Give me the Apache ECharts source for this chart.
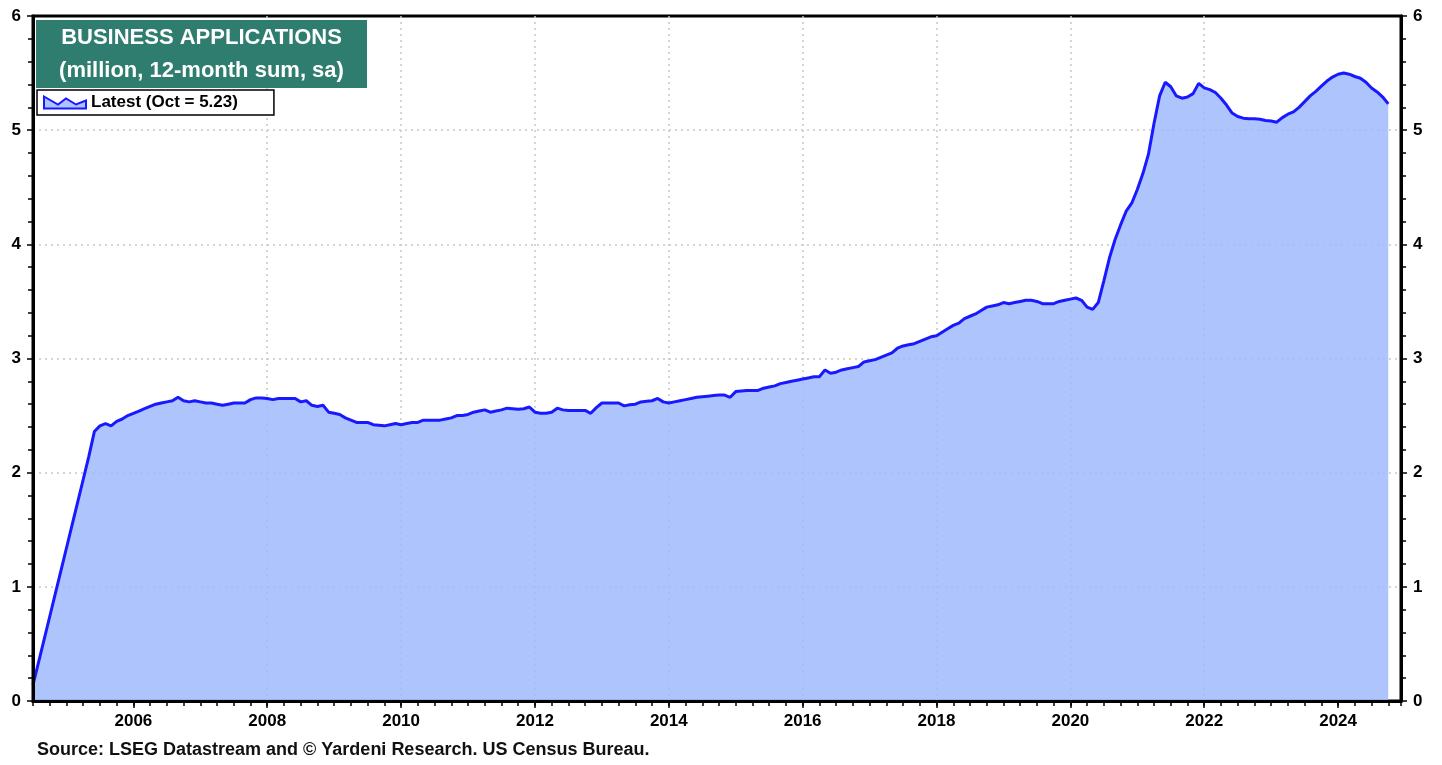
<!DOCTYPE html>
<html>
<head>
<meta charset="utf-8">
<title>Business Applications</title>
<script src="https://cdn.jsdelivr.net/npm/echarts@6/dist/echarts.min.js"></script>
<style>
  html, body { margin: 0; padding: 0; background: #fff; }
  #main { width: 1442px; height: 765px; }
</style>
</head>
<body>
<div id="main"></div>
<script>
// monthly series, first point = Jul 2004 (x in decimal years)
var startYear = 2004.5;
var seriesName = 'Latest (Oct = 5.23)';

// business applications, million, 12-month sum, sa
var apps = [
  // 2004 Jul-Dec
  0.14, 0.34, 0.54, 0.74, 0.94, 1.14,
  // 2005
  1.34, 1.54, 1.74, 1.94, 2.14, 2.36, 2.41, 2.43, 2.41, 2.45, 2.47, 2.50,
  // 2006
  2.52, 2.54, 2.56, 2.58, 2.60, 2.61, 2.62, 2.63, 2.66, 2.63, 2.62, 2.63,
  // 2007
  2.62, 2.61, 2.61, 2.60, 2.59, 2.60, 2.61, 2.61, 2.61, 2.64, 2.655, 2.655,
  // 2008
  2.65, 2.64, 2.65, 2.65, 2.65, 2.65, 2.62, 2.63, 2.59, 2.58, 2.59, 2.53,
  // 2009
  2.52, 2.51, 2.48, 2.46, 2.44, 2.44, 2.44, 2.42, 2.415, 2.41, 2.42, 2.43,
  // 2010
  2.42, 2.43, 2.44, 2.44, 2.46, 2.46, 2.46, 2.46, 2.47, 2.48, 2.50, 2.50,
  // 2011
  2.51, 2.53, 2.54, 2.55, 2.53, 2.54, 2.55, 2.565, 2.56, 2.555, 2.56, 2.575,
  // 2012
  2.53, 2.52, 2.52, 2.53, 2.565, 2.55, 2.545, 2.545, 2.545, 2.545, 2.52, 2.57,
  // 2013
  2.61, 2.61, 2.61, 2.61, 2.585, 2.595, 2.60, 2.62, 2.625, 2.63, 2.65, 2.62,
  // 2014
  2.61, 2.62, 2.63, 2.64, 2.65, 2.66, 2.665, 2.67, 2.675, 2.68, 2.68, 2.66,
  // 2015
  2.71, 2.715, 2.72, 2.72, 2.72, 2.74, 2.75, 2.76, 2.78, 2.79, 2.80, 2.81,
  // 2016
  2.82, 2.83, 2.84, 2.84, 2.90, 2.87, 2.88, 2.90, 2.91, 2.92, 2.93, 2.97,
  // 2017
  2.98, 2.99, 3.01, 3.03, 3.05, 3.09, 3.11, 3.12, 3.13, 3.15, 3.17, 3.19,
  // 2018
  3.20, 3.23, 3.26, 3.29, 3.31, 3.35, 3.37, 3.39, 3.42, 3.45, 3.46, 3.47,
  // 2019
  3.49, 3.48, 3.49, 3.50, 3.51, 3.51, 3.50, 3.48, 3.48, 3.48, 3.50, 3.51,
  // 2020
  3.52, 3.53, 3.51, 3.45, 3.43, 3.49, 3.68, 3.88, 4.04, 4.17, 4.29, 4.36,
  // 2021
  4.48, 4.62, 4.79, 5.06, 5.30, 5.42, 5.38, 5.30, 5.28, 5.29, 5.32, 5.41,
  // 2022
  5.37, 5.355, 5.33, 5.28, 5.22, 5.15, 5.12, 5.105, 5.10, 5.10, 5.095, 5.085,
  // 2023
  5.08, 5.07, 5.11, 5.14, 5.16, 5.20, 5.25, 5.30, 5.34, 5.385, 5.43, 5.465,
  // 2024 Jan-Oct
  5.49, 5.50, 5.49, 5.47, 5.455, 5.42, 5.37, 5.335, 5.29, 5.23
];

var yearLabels = [2006, 2008, 2010, 2012, 2014, 2016, 2018, 2020, 2022, 2024];

var xMin = 2004.5, xMax = 2024.94;
var font = '"Liberation Sans", Arial, sans-serif';

var points = apps.map(function (v, i) { return [startYear + i / 12, v]; });

var chart = echarts.init(document.getElementById('main'));

chart.setOption({
  animation: false,
  backgroundColor: '#fff',
  textStyle: { fontFamily: font },
  grid: {
    left: 33, right: 41, top: 16, bottom: 64,
    show: true, borderColor: '#000', borderWidth: 3, backgroundColor: 'transparent'
  },
  legend: {
    left: 37, top: 90,
    padding: [4, 36, 4, 6],
    backgroundColor: '#fff',
    borderColor: '#000',
    borderWidth: 1.5,
    borderRadius: 0,
    itemWidth: 42,
    itemHeight: 14,
    textStyle: { fontSize: 17, fontWeight: 'bold', color: '#000', fontFamily: font },
    data: [{
      name: seriesName,
      icon: 'path://M0,2 L14,10 L22,4 L32,10 L42,6 L42,14 L0,14 Z',
      itemStyle: { color: '#aec3fb', borderColor: '#1919ff', borderWidth: 2 }
    }]
  },
  xAxis: [
    {
      // axis line + quarterly ticks
      type: 'value', min: xMin, max: xMax, interval: 0.25, z: 3,
      axisLine: { lineStyle: { color: '#000', width: 3 } },
      axisTick: { length: 5, lineStyle: { color: '#000', width: 1.5 } },
      axisLabel: { show: false },
      splitLine: { show: false }
    },
    {
      // year labels, year ticks, vertical grid
      type: 'value', min: xMin, max: xMax, position: 'bottom',
      axisLine: { show: false },
      axisTick: { length: 7, customValues: yearLabels, lineStyle: { color: '#000', width: 1.5 } },
      axisLabel: {
        customValues: yearLabels, margin: 12,
        fontSize: 17, fontWeight: 'bold', color: '#000', fontFamily: font,
        formatter: function (v) { return String(v); }
      },
      splitLine: { show: true, showMinLine: false, showMaxLine: false, lineStyle: { color: '#c8c8c8', width: 1.5, type: [2, 4] } }
    }
  ],
  yAxis: [
    {
      type: 'value', min: 0, max: 6, interval: 1, position: 'left', z: 3,
      axisLine: { show: true, lineStyle: { color: '#000', width: 3 } },
      axisTick: { show: true, length: 6, lineStyle: { color: '#000', width: 1.5 } },
      minorTick: { show: true, splitNumber: 5, length: 5, lineStyle: { color: '#000', width: 1.5 } },
      axisLabel: { margin: 12, fontSize: 17, fontWeight: 'bold', color: '#000', fontFamily: font },
      splitLine: { show: false }
    },
    {
      type: 'value', min: 0, max: 6, interval: 1, position: 'right',
      axisLine: { show: true, lineStyle: { color: '#000', width: 3 } },
      axisTick: { show: true, length: 6, lineStyle: { color: '#000', width: 1.5 } },
      minorTick: { show: true, splitNumber: 5, length: 5, lineStyle: { color: '#000', width: 1.5 } },
      axisLabel: { margin: 12, fontSize: 17, fontWeight: 'bold', color: '#000', fontFamily: font },
      splitLine: { show: true, showMinLine: false, showMaxLine: false, lineStyle: { color: '#c8c8c8', width: 1.5, type: [2, 4] } }
    }
  ],
  series: [{
    name: seriesName,
    type: 'line',
    xAxisIndex: 0,
    yAxisIndex: 0,
    data: points,
    showSymbol: false,
    symbol: 'none',
    smooth: false,
    lineStyle: { color: '#1919ff', width: 3 },
    itemStyle: { color: '#1919ff' },
    areaStyle: { color: 'rgb(160,186,252)', opacity: 0.85 },
    z: 2
  }],
  graphic: [
    {
      type: 'rect', left: 36, top: 20, z: 10,
      shape: { width: 331, height: 68 },
      style: { fill: '#2e7d6e' }
    },
    {
      type: 'text', z: 11,
      x: 201.5, y: 54,
      style: {
        text: 'BUSINESS APPLICATIONS\n(million, 12-month sum, sa)',
        fill: '#fff', align: 'center', verticalAlign: 'middle',
        fontSize: 22, fontWeight: 'bold', fontFamily: font, lineHeight: 33
      }
    },
    {
      type: 'text', z: 11,
      x: 37, y: 750,
      style: {
        text: 'Source: LSEG Datastream and \u00a9 Yardeni Research. US Census Bureau.',
        fill: '#111', align: 'left', verticalAlign: 'middle',
        fontSize: 18, fontWeight: 'bold', fontFamily: font
      }
    }
  ]
});
</script>
</body>
</html>
